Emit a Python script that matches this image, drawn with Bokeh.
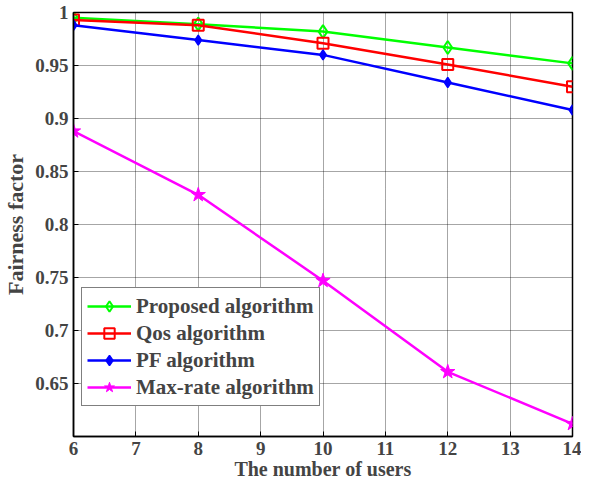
from bokeh.plotting import figure
from bokeh.models import Range1d, FixedTicker, Legend
from bokeh.embed import file_html
from bokeh.resources import INLINE

users = [6, 8, 10, 12, 14]
proposed = [0.995, 0.989, 0.982, 0.967, 0.952]
qos = [0.993, 0.988, 0.971, 0.951, 0.930]
pf = [0.988, 0.974, 0.960, 0.934, 0.908]
maxrate = [0.888, 0.828, 0.747, 0.661, 0.612]

x_ticks = [6, 7, 8, 9, 10, 11, 12, 13, 14]
y_ticks = [0.65, 0.7, 0.75, 0.8, 0.85, 0.9, 0.95, 1.0]
y_labels = {0.65: "0.65", 0.7: "0.7", 0.75: "0.75", 0.8: "0.8", 0.85: "0.85",
            0.9: "0.9", 0.95: "0.95", 1.0: "1"}

FONT = "Liberation Serif"

p = figure(width=581, height=482, output_backend="svg", toolbar_location=None,
           x_range=Range1d(6, 14), y_range=Range1d(0.6, 1.0),
           min_border_left=72, min_border_right=9, min_border_top=12, min_border_bottom=46)

p.outline_line_color = "black"
p.outline_line_width = 1.5

for axs in (p.xaxis, p.yaxis):
    axs.major_label_text_font = FONT
    axs.major_label_text_font_style = "bold"
    axs.major_label_text_font_size = "19px"
    axs.axis_label_text_font = FONT
    axs.axis_label_text_font_style = "bold"
    axs.axis_line_color = "black"
    axs.axis_line_width = 1.5
    axs.major_tick_in = 5
    axs.major_tick_out = 0
    axs.minor_tick_line_color = None
    axs.major_tick_line_color = "black"

p.xaxis.axis_label_text_font_size = "20px"
p.yaxis.axis_label_text_font_size = "22px"
p.xaxis.ticker = FixedTicker(ticks=x_ticks)
p.yaxis.ticker = FixedTicker(ticks=y_ticks)
p.yaxis.major_label_overrides = y_labels
p.xaxis.axis_label = "The number of users"
p.yaxis.axis_label = "Fairness factor"
p.xaxis.axis_label_standoff = 0
p.yaxis.axis_label_standoff = 4
p.xaxis.major_label_standoff = 5
p.yaxis.major_label_standoff = 5

p.grid.grid_line_color = "black"
p.grid.grid_line_alpha = 0.7
p.grid.grid_line_dash = "1 1"
p.grid.grid_line_width = 1

r1 = p.line(users, proposed, line_color="#00ff00", line_width=2.5)
m1 = p.scatter(users, proposed, marker="diamond", size=13, line_color="#00ff00",
               fill_color=None, line_width=2)
r2 = p.line(users, qos, line_color="#ff0000", line_width=2.5)
m2 = p.scatter(users, qos, marker="square", size=11, line_color="#ff0000",
               fill_color=None, line_width=2)
r3 = p.line(users, pf, line_color="#0000ff", line_width=2.5)
m3 = p.scatter(users, pf, marker="diamond", size=10, line_color="#0000ff",
               fill_color="#0000ff", line_width=1.5)
r4 = p.line(users, maxrate, line_color="#ff00ff", line_width=2.5)
m4 = p.scatter(users, maxrate, marker="star", size=15, line_color="#ff00ff",
               fill_color="#ff00ff", line_width=1)

legend = Legend(items=[("Proposed algorithm", [r1, m1]),
                       ("Qos algorithm", [r2, m2]),
                       ("PF algorithm", [r3, m3]),
                       ("Max-rate algorithm", [r4, m4])],
                location=(8, 30))
legend.label_text_font = FONT
legend.label_text_font_style = "bold"
legend.label_text_font_size = "21px"
legend.border_line_color = "black"
legend.border_line_width = 1.5
legend.glyph_width = 44
legend.glyph_height = 26
legend.label_height = 26
legend.spacing = 1
legend.padding = 5
legend.margin = 0
legend.label_standoff = 5
legend.background_fill_color = "white"
legend.background_fill_alpha = 1
p.add_layout(legend, "center")

open("out.html", "w").write(file_html(p, INLINE))
